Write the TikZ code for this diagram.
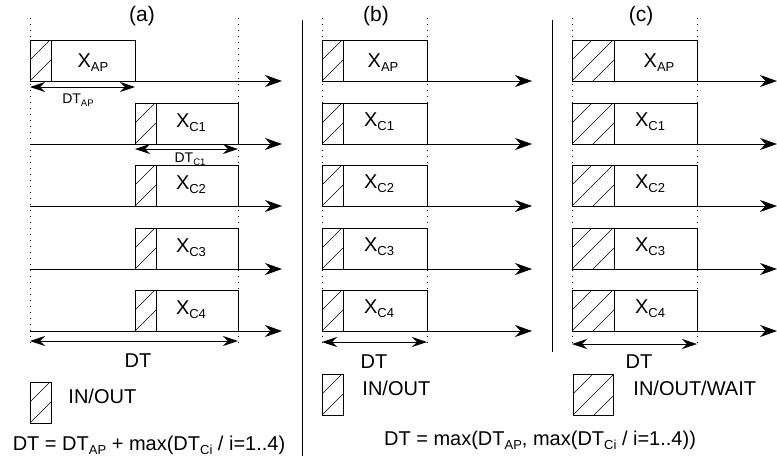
\documentclass[tikz,border=0pt]{standalone}
\usepackage{fontspec}
\setmainfont{Liberation Sans}
\usetikzlibrary{arrows.meta}
\newcommand\lowsub[1]{\raisebox{-0.23em}{\fontsize{13}{13}\selectfont #1}}
\newcommand\tinysub[1]{\raisebox{-0.23em}{\fontsize{9.5}{9.5}\selectfont #1}}
\newcommand\hatchrect[5]{% name, x, y, w, h
  \begin{scope}
    \clip (#2,#3) rectangle ++(#4,#5);
    \foreach \c in {-42,-21,0,21,42}{\draw[line width=0.6pt] ({#2+\c},{#3+#5}) -- ++(60,-60);}
  \end{scope}
  \node[hatchbox, minimum width=#4, minimum height=#5, anchor=north west] (#1) at (#2,#3) {};}
\begin{document}
\begin{tikzpicture}[x=1pt,y=-1pt,line width=0.9pt,
  hatchbox/.style={draw, line width=1pt, inner sep=0pt, outer sep=0pt},
  boxw/.style={draw, line width=1pt, inner sep=0pt, outer sep=0pt, minimum height=41, anchor=north west},
  tl/.style={-{Stealth[length=17pt,width=12pt,inset=5.5pt]}},
  dt/.style={{Stealth[length=15pt,width=10pt,inset=5pt]}-{Stealth[length=15pt,width=10pt,inset=5pt]}},
  dots/.style={line width=0.8pt, dash pattern=on 1.2pt off 4.8pt},
  lbl/.style={inner sep=0pt, anchor=base, font=\fontsize{20}{24}\selectfont},
  ttl/.style={inner sep=0pt, anchor=base, font=\fontsize{21}{24}\selectfont},
  llbl/.style={inner sep=0pt, anchor=base west, font=\fontsize{20}{24}\selectfont},
  slbl/.style={inner sep=0pt, anchor=base, font=\fontsize{14}{16}\selectfont}]
\useasboundingbox (0,0) rectangle (777,459);

% separators
\coordinate (s1t) at (302,20); \coordinate (s1b) at (302,456);
\coordinate (s2t) at (552,20); \coordinate (s2b) at (552,352);
\draw (s1t) -- (s1b);
\draw (s2t) -- (s2b);

% titles
\node[ttl] (ta) at (142,21) {(a)};
\node[ttl] (tb) at (376,21) {(b)};
\node[ttl] (tc) at (641,21) {(c)};

% dotted guide lines
\foreach \x/\n in {30/a1,238/a2,322/b1,427/b2,572/c1,697/c2}{
  \coordinate (g\n t) at (\x,18); \coordinate (g\n b) at (\x,346);
  \draw[dots] (g\n t) -- (g\n b);
}

% ---------- panel (a) ----------
\hatchrect{ahAP}{30}{40}{21}{41}
\node[boxw, minimum width=84] (aAP) at (51,40) {};
\node[lbl] (aAPl) at (93,67) {X\lowsub{AP}};
\coordinate (aL1s) at (30,81); \coordinate (aL1e) at (282,81);
\draw[tl] (aL1s) -- (aL1e);
\coordinate (dAPs) at (30,87); \coordinate (dAPe) at (135,87);
\draw[dt] (dAPs) -- (dAPe);
\node[slbl] (dAPl) at (78,103) {DT\tinysub{AP}};

\foreach \i/\t in {1/103,2/165,3/228,4/290}{
  \hatchrect{ahC\i}{135}{\t}{21}{41}
  \node[boxw, minimum width=82] (aC\i) at (156,\t) {};
  \node[lbl] (aC\i l) at (191,\t+24) {X\lowsub{C\i}};
  \coordinate (aLs\i) at (30,\t+41); \coordinate (aLe\i) at (282,\t+41);
  \draw[tl] (aLs\i) -- (aLe\i);
}
\coordinate (dC1s) at (135,149); \coordinate (dC1e) at (238,149);
\draw[dt] (dC1s) -- (dC1e);
\node[slbl] (dC1l) at (190,162) {DT\tinysub{C1}};

\coordinate (dAs) at (30,341); \coordinate (dAe) at (238,341);
\draw[dt] (dAs) -- (dAe);
\node[lbl] (dAl) at (138,367) {DT};

\hatchrect{alegA}{30}{382}{21}{41}
\node[llbl] (alegAt) at (68,403) {IN/OUT};
\node[lbl] (fa) at (149,450) {DT = DT\lowsub{AP} + max(DT\lowsub{Ci} / i=1..4)};

% ---------- panel (b) ----------
\foreach \i/\t in {0/40,1/103,2/165,3/228,4/290}{
  \hatchrect{bh\i}{322}{\t}{21}{41}
  \node[boxw, minimum width=84] (bB\i) at (343,\t) {};
  \coordinate (bLs\i) at (322,\t+41); \coordinate (bLe\i) at (532,\t+41);
  \draw[tl] (bLs\i) -- (bLe\i);
}
\node[lbl] (bl0) at (383,67) {X\lowsub{AP}};
\foreach \i/\t in {1/103,2/165,3/228,4/290}{
  \node[lbl] (bl\i) at (379,\t+23) {X\lowsub{C\i}};
}
\coordinate (dBs) at (322,342); \coordinate (dBe) at (427,342);
\draw[dt] (dBs) -- (dBe);
\node[lbl] (dBl) at (374,368) {DT};
\hatchrect{blegB}{322}{374}{21}{41}
\node[llbl] (blegBt) at (362,395) {IN/OUT};

% ---------- panel (c) ----------
\foreach \i/\t in {0/40,1/103,2/165,3/228,4/290}{
  \hatchrect{ch\i}{572}{\t}{42}{41}
  \node[boxw, minimum width=83] (cB\i) at (614,\t) {};
  \coordinate (cLs\i) at (572,\t+41); \coordinate (cLe\i) at (777,\t+41);
  \draw[tl] (cLs\i) -- (cLe\i);
}
\node[lbl] (cl0) at (659,67) {X\lowsub{AP}};
\foreach \i/\t in {1/103,2/165,3/228,4/290}{
  \node[lbl] (cl\i) at (650,\t+23) {X\lowsub{C\i}};
}
\coordinate (dCs) at (572,344); \coordinate (dCe) at (697,344);
\draw[dt] (dCs) -- (dCe);
\node[lbl] (dCl) at (639,368) {DT};
\hatchrect{clegC}{573}{374}{40}{41}
\node[llbl] (clegCt) at (633,395) {IN/OUT/WAIT};

\node[lbl] (fbc) at (540,445) {DT = max(DT\lowsub{AP}, max(DT\lowsub{Ci} / i=1..4))};
\end{tikzpicture}
\end{document}
